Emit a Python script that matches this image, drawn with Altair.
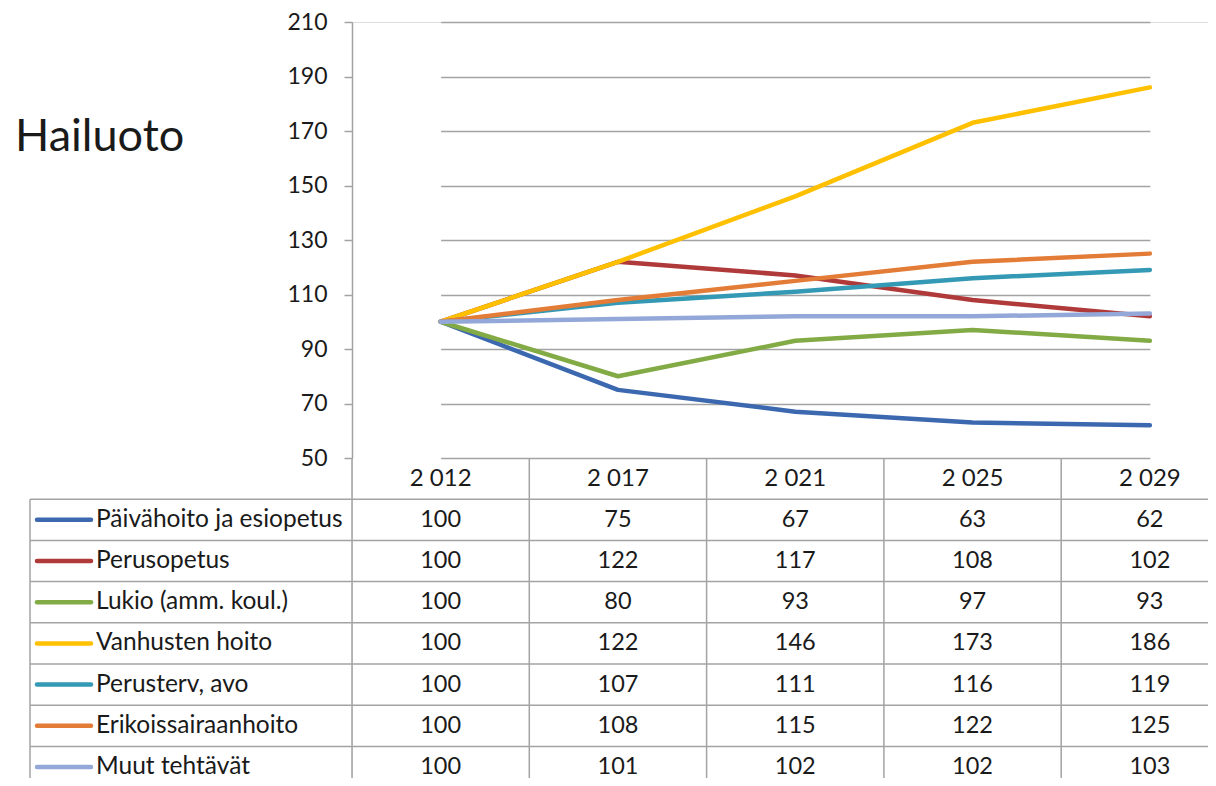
import altair as alt
import pandas as pd

# ---------------- data ----------------
title_text = "Hailuoto"
years = ["2 012", "2 017", "2 021", "2 025", "2 029"]
series = [
    "Päivähoito ja esiopetus",
    "Perusopetus",
    "Lukio (amm. koul.)",
    "Vanhusten hoito",
    "Perusterv, avo",
    "Erikoissairaanhoito",
    "Muut tehtävät",
]
colors = ["#3C68B0", "#B03A3A", "#82AA45", "#FFC000", "#3399B5", "#E37C36", "#93A8D8"]

paivahoito = [100, 75, 67, 63, 62]
perusopetus = [100, 122, 117, 108, 102]
lukio = [100, 80, 93, 97, 93]
vanhusten = [100, 122, 146, 173, 186]
perusterv = [100, 107, 111, 116, 119]
erikois = [100, 108, 115, 122, 125]
muut = [100, 101, 102, 102, 103]
y_ticks = [50, 70, 90, 110, 130, 150, 170, 190, 210]

values = [paivahoito, perusopetus, lukio, vanhusten, perusterv, erikois, muut]

rows = []
for s, vals in zip(series, values):
    for y, v in zip(years, vals):
        rows.append({"series": s, "year": y, "value": v, "row": s, "label": str(v)})
df = pd.DataFrame(rows)
df_head = pd.DataFrame({"year": years, "row": ["hdr"] * len(years)})
df_series = pd.DataFrame({"series": series, "row": series})
df_one = pd.DataFrame({"a": [0]})

# ---------------- layout ----------------
W = 856
H = 756
PLOT_H = 436
COL_W = 177.3
ROW_H = 41.2
FONT = "Lato"
GRID = "#A3A3A3"
TXT = "#1A1A1A"

x_scale = alt.Scale(type="point", domain=years, range=[COL_W / 2, COL_W * 4.5], padding=0)
y_scale = alt.Scale(domain=[50, 210], range=[PLOT_H, 0], nice=False, zero=False)
color_scale = alt.Scale(domain=series, range=colors)
row_scale = alt.Scale(type="band", domain=["hdr"] + series,
                      range=[PLOT_H, PLOT_H + 8 * ROW_H], paddingInner=0, paddingOuter=0)

y_axis = alt.Axis(values=y_ticks, grid=True, gridColor=GRID, gridWidth=1.5,
                  tickSize=8, tickColor=GRID, tickWidth=1.5,
                  domainColor=GRID, domainWidth=1.5,
                  labelFontSize=23, labelFont=FONT, labelColor=TXT, labelPadding=17,
                  title=None)

X = alt.X("year:N", scale=x_scale, axis=None)

line_layers = []
for s in series:
    line_layers.append(
        alt.Chart(df)
        .transform_filter(alt.FieldEqualPredicate(field="series", equal=s))
        .mark_line(strokeWidth=4.5, strokeCap="round", strokeJoin="round")
        .encode(
            x=X,
            y=alt.Y("value:Q", scale=y_scale, axis=y_axis),
            color=alt.Color("series:N", scale=color_scale, legend=None),
        )
    )
lines = alt.layer(*line_layers)

RowY = alt.Y("row:N", scale=row_scale, axis=None, bandPosition=0.5)
RowTop = alt.Y("row:N", scale=row_scale, axis=None, bandPosition=0)

h_rules = alt.Chart(df_series).mark_rule(color=GRID, strokeWidth=1.5).encode(
    y=RowTop, x=alt.value(-322), x2=alt.value(W)
)
v_rules = alt.Chart(pd.DataFrame({"year": years})).mark_rule(
    color=GRID, strokeWidth=1.5, xOffset=-COL_W / 2
).encode(x=X, y=alt.value(PLOT_H), y2=alt.value(H + 30))
left_border = alt.Chart(df_one).mark_rule(color=GRID, strokeWidth=1.5).encode(
    x=alt.value(-322), y=alt.value(PLOT_H + ROW_H), y2=alt.value(H + 30)
)
header = alt.Chart(df_head).mark_text(fontSize=24, font=FONT, color=TXT).encode(
    x=X, y=RowY, text="year:N"
)
numbers = alt.Chart(df).mark_text(fontSize=23.5, font=FONT, color=TXT).encode(
    x=X, y=RowY, text="label:N"
)
swatches = alt.Chart(df_series).mark_rule(strokeWidth=4.5, strokeCap="round").encode(
    x=alt.value(-315), x2=alt.value(-261), y=RowY,
    color=alt.Color("series:N", scale=color_scale, legend=None),
)
labels = alt.Chart(df_series).mark_text(fontSize=24.5, font=FONT, color=TXT, align="left").encode(
    x=alt.value(-256), y=RowY, text="series:N"
)
table = alt.layer(h_rules, v_rules, left_border, header, numbers, swatches, labels)

chart = (
    alt.layer(lines, table)
    .resolve_scale(y="independent")
    .properties(
        width=W,
        height=H,
        autosize=alt.AutoSizeParams(type="none"),
        padding={"left": 344, "top": 14, "right": 0, "bottom": 0},
        title=alt.TitleParams(title_text, anchor="start", orient="top", frame="group",
                              dx=-337, dy=185, offset=0, baseline="alphabetic",
                              fontSize=45, font=FONT, fontWeight="normal", color=TXT),
    )
    .configure_view(stroke=None)
    .configure(background="white")
)

chart.save("out.html", embed_options={"renderer": "svg", "actions": False})
